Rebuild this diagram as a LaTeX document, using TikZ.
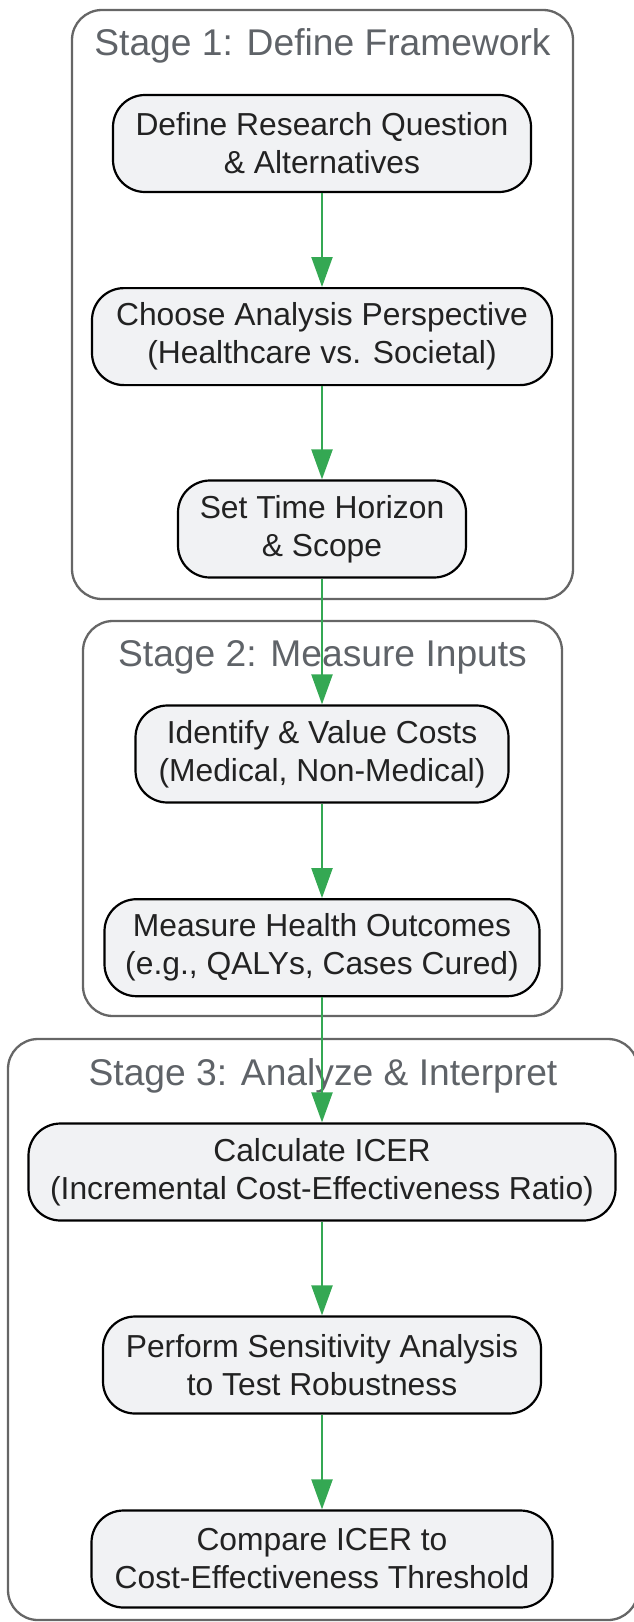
\documentclass[tikz,border=0pt]{standalone}
\usepackage{fontspec}
\setmainfont{Liberation Sans}
\usetikzlibrary{arrows.meta}
\definecolor{nodefill}{HTML}{F1F2F4}
\definecolor{nodetext}{HTML}{222222}
\definecolor{titlegray}{HTML}{5F6368}
\definecolor{clusterline}{HTML}{666666}
\definecolor{arrowgreen}{HTML}{34A853}
\tikzset{
  cluster/.style={draw=clusterline, line width=2.3pt, rounded corners=30pt, fill=none, inner sep=0pt},
  ctitle/.style={text=titlegray, font=\fontsize{37.2}{44}\selectfont, inner sep=0pt},
  stepbox/.style={draw=black, line width=2.2pt, fill=nodefill, rounded corners=32pt,
    text=nodetext, align=center, font=\fontsize{31.8}{38}\selectfont,
    minimum height=97pt, inner sep=0pt},
  flow/.style={draw=arrowgreen, line width=2.2pt, -{Triangle[length=30pt,width=21pt]}}
}
\begin{document}
\begin{tikzpicture}[x=1pt,y=-1pt]
\useasboundingbox (0,0) rectangle (634,1622);
\clip (0,0) rectangle (634,1622);
% clusters
\node[cluster, minimum width=501pt, minimum height=589pt] (c1) at (322.5,304.5) {};
\node[cluster, minimum width=479pt, minimum height=395pt] (c2) at (322.5,818.5) {};
\node[cluster, minimum width=630pt, minimum height=581pt] (c3) at (323,1329.5) {};
\node[ctitle] (t1) at (322.5,46) {Stage 1: Define Framework};
\node[ctitle] (t2) at (322.5,657.5) {Stage 2: Measure Inputs};
\node[ctitle] (t3) at (323,1075.5) {Stage 3: Analyze \& Interpret};
% steps
\node[stepbox, minimum width=418pt] (n1) at (322,143.5) {Define Research Question\\\& Alternatives};
\node[stepbox, minimum width=460pt] (n2) at (322,336.6) {Choose Analysis Perspective\\(Healthcare vs. Societal)};
\node[stepbox, minimum width=288pt] (n3) at (322,529) {Set Time Horizon\\\& Scope};
\node[stepbox, minimum width=373pt] (n4) at (322,754) {Identify \& Value Costs\\(Medical, Non-Medical)};
\node[stepbox, minimum width=435pt] (n5) at (322,947.7) {Measure Health Outcomes\\(e.g., QALYs, Cases Cured)};
\node[stepbox, minimum width=587pt] (n6) at (322,1172) {Calculate ICER\\(Incremental Cost-Effectiveness Ratio)};
\node[stepbox, minimum width=438pt] (n7) at (322,1365) {Perform Sensitivity Analysis\\to Test Robustness};
\node[stepbox, minimum width=461pt] (n8) at (322,1559) {Compare ICER to\\Cost-Effectiveness Threshold};
% connectors
\draw[flow] (n1) -- (n2);
\draw[flow] (n2) -- (n3);
\draw[flow] (n3) -- (n4);
\draw[flow] (n4) -- (n5);
\draw[flow] (n5) -- (n6);
\draw[flow] (n6) -- (n7);
\draw[flow] (n7) -- (n8);
\end{tikzpicture}
\end{document}
